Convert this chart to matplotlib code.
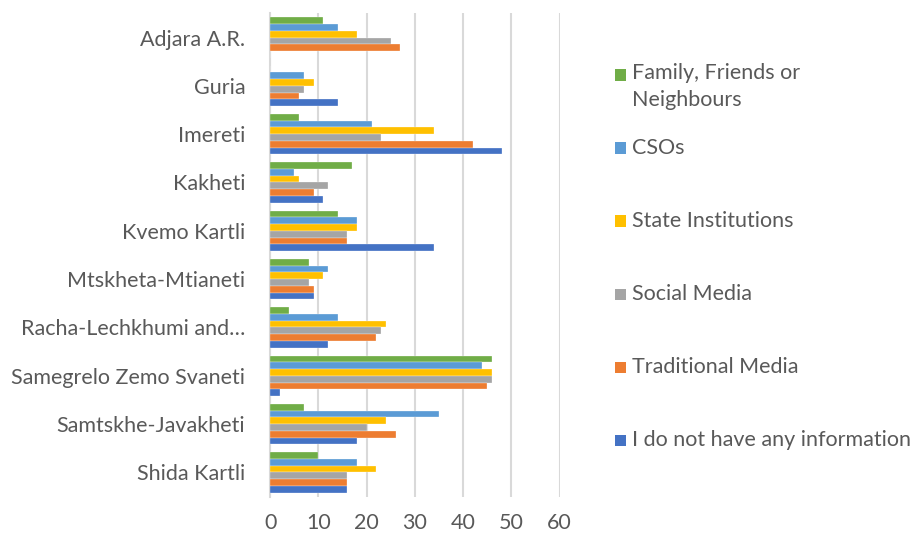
import numpy as np
from matplotlib import pyplot as plt
from matplotlib.patches import Rectangle

regions = ['Adjara A.R.', 'Guria', 'Imereti', 'Kakheti', 'Kvemo Kartli',
           'Mtskheta-Mtianeti', 'Racha-Lechkhumi and…', 'Samegrelo Zemo Svaneti',
           'Samtskhe-Javakheti', 'Shida Kartli']

family = [11, 0, 6, 17, 14, 8, 4, 46, 7, 10]
csos = [14, 7, 21, 5, 18, 12, 14, 44, 35, 18]
state = [18, 9, 34, 6, 18, 11, 24, 46, 24, 22]
social = [25, 7, 23, 12, 16, 8, 23, 46, 20, 16]
traditional = [27, 6, 42, 9, 16, 9, 22, 45, 26, 16]
no_info = [0, 14, 48, 11, 34, 9, 12, 2, 18, 16]

series = [
    ('Family, Friends or\nNeighbours', family, '#70AD47'),
    ('CSOs', csos, '#5B9BD5'),
    ('State Institutions', state, '#FFC000'),
    ('Social Media', social, '#A5A5A5'),
    ('Traditional Media', traditional, '#ED7D31'),
    ('I do not have any information', no_info, '#4472C4'),
]

plt.rcParams['font.family'] = ['Lato', 'DejaVu Sans']
text_col = '#595959'

W, H = 919, 534
fig = plt.figure(figsize=(W / 100, H / 100), dpi=100)
ax = fig.add_axes([0.294, 0.07, 0.315, 0.905])

y = np.arange(len(regions))
h = 0.14
for i, (name, vals, col) in enumerate(series):
    # first series is the top bar of each group
    ax.barh(y - 2.5 * h + i * h, vals, height=h, color=col,
            edgecolor='white', linewidth=0.2, label=name, zorder=3)

ax.set_xlim(0, 60)
ax.set_ylim(len(regions) - 0.5, -0.5)
ax.set_xticks(range(0, 61, 10))
ax.set_yticks(y)
ax.set_yticklabels(regions)
ax.tick_params(length=0, labelsize=15.5, colors=text_col, pad=18)
ax.tick_params(axis='x', pad=12)
ax.grid(axis='x', color='#D9D9D9', linewidth=1.5, zorder=0)
for s in ['top', 'right', 'bottom']:
    ax.spines[s].set_visible(False)
ax.spines['left'].set_color('#D9D9D9')
ax.spines['left'].set_linewidth(1.5)

# legend drawn by hand so the two-line entry sits like Excel's
row_px = 73
top_px = 75
for i, (name, _, col) in enumerate(series):
    cy = top_px + i * row_px
    fig.patches.append(Rectangle((615 / W, 1 - (cy + 5.5) / H), 11 / W, 11 / H,
                                 transform=fig.transFigure, facecolor=col,
                                 edgecolor='none'))
    if '\n' in name:
        fig.text(632 / W, 1 - (cy - 12) / H, name, fontsize=15.5, color=text_col,
                 va='top', ha='left', linespacing=1.45)
    else:
        fig.text(632 / W, 1 - cy / H, name, fontsize=15.5, color=text_col,
                 va='center', ha='left')

fig.savefig('out.png', dpi=100)
